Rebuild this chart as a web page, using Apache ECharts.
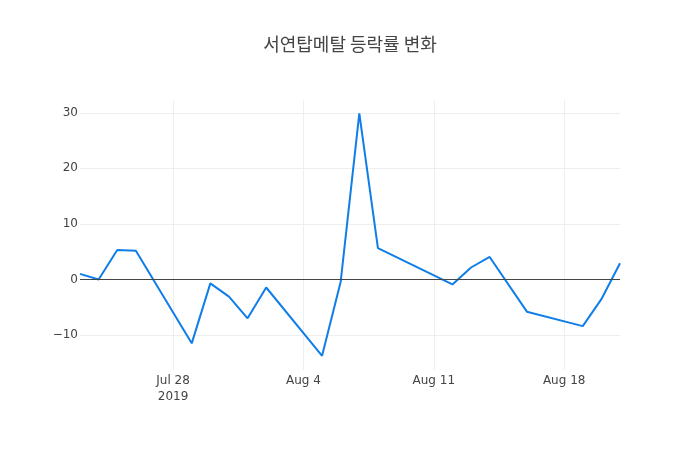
<html>
<head>
<meta charset="utf-8">
<script src="https://cdn.jsdelivr.net/npm/echarts@6/dist/echarts.min.js"></script>
<style>
  html, body { margin: 0; padding: 0; background: #fff; }
  #main { width: 700px; height: 450px; }
</style>
</head>
<body>
<div id="main"></div>
<script>
// trading days and daily change (%)
var dates = [
    '2019-07-23', '2019-07-24', '2019-07-25', '2019-07-26',
    '2019-07-29', '2019-07-30', '2019-07-31', '2019-08-01', '2019-08-02',
    '2019-08-05', '2019-08-06', '2019-08-07', '2019-08-08',
    '2019-08-12', '2019-08-13', '2019-08-14', '2019-08-16',
    '2019-08-19', '2019-08-20', '2019-08-21'
];
var changes = [
    1.0, 0.0, 5.3, 5.15,
    -11.5, -0.7, -3.1, -7.0, -1.45,
    -13.75, -0.4, 29.9, 5.65,
    -0.9, 2.15, 4.05, -5.8,
    -8.4, -3.55, 2.9
];
var xTicks = ['2019-07-28', '2019-08-04', '2019-08-11', '2019-08-18'];
var yTicks = [-10, 0, 10, 20, 30];

var MONTHS = ['Jan', 'Feb', 'Mar', 'Apr', 'May', 'Jun', 'Jul', 'Aug', 'Sep', 'Oct', 'Nov', 'Dec'];
var LABEL_FONT = '"DejaVu Sans", Verdana, sans-serif';

function ts(s) {
    return new Date(s + 'T00:00:00Z').getTime();
}

var xTickTs = xTicks.map(ts);
var seriesData = dates.map(function (d, i) {
    return [ts(d), changes[i]];
});

var chart = echarts.init(document.getElementById('main'));

chart.setOption({
    backgroundColor: '#fff',
    animation: false,
    title: {
        text: '서연탑메탈 등락률 변화',
        left: 'center',
        top: 30,
        textStyle: {
            fontFamily: '"Noto Sans CJK KR", sans-serif',
            fontSize: 18,
            fontWeight: 'normal',
            color: '#444'
        }
    },
    grid: {
        left: 80,
        right: 80,
        top: 100,
        bottom: 80
    },
    xAxis: {
        // dates as UTC timestamps on a plain value axis
        type: 'value',
        min: ts(dates[0]),
        max: ts(dates[dates.length - 1]),
        axisLine: { show: false },
        axisTick: { show: false, customValues: xTickTs },
        splitLine: {
            show: true,
            lineStyle: { color: '#eee', width: 1 }
        },
        axisLabel: {
            customValues: xTickTs,
            margin: 3,
            lineHeight: 16,
            color: '#444',
            fontSize: 12,
            fontFamily: LABEL_FONT,
            formatter: function (v) {
                var d = new Date(v);
                var s = MONTHS[d.getUTCMonth()] + ' ' + d.getUTCDate();
                if (v === xTickTs[0]) {
                    s += '\n' + d.getUTCFullYear();
                }
                return s;
            }
        }
    },
    yAxis: {
        type: 'value',
        min: -16.3,
        max: 32.3,
        axisLine: { show: false },
        axisTick: { show: false, customValues: yTicks },
        splitLine: {
            show: true,
            lineStyle: { color: '#eee', width: 1 }
        },
        axisLabel: {
            customValues: yTicks,
            margin: 2,
            color: '#444',
            fontSize: 12,
            fontFamily: LABEL_FONT,
            formatter: function (v) {
                return String(v).replace('-', '\u2212');
            }
        }
    },
    series: [{
        name: '등락률',
        type: 'line',
        data: seriesData,
        showSymbol: false,
        lineStyle: { color: '#0f7ee8', width: 2 },
        itemStyle: { color: '#0f7ee8' },
        markLine: {
            silent: true,
            symbol: 'none',
            label: { show: false },
            lineStyle: { color: '#444', width: 1, type: 'solid' },
            data: [{ yAxis: 0 }]
        }
    }]
});
</script>
</body>
</html>
